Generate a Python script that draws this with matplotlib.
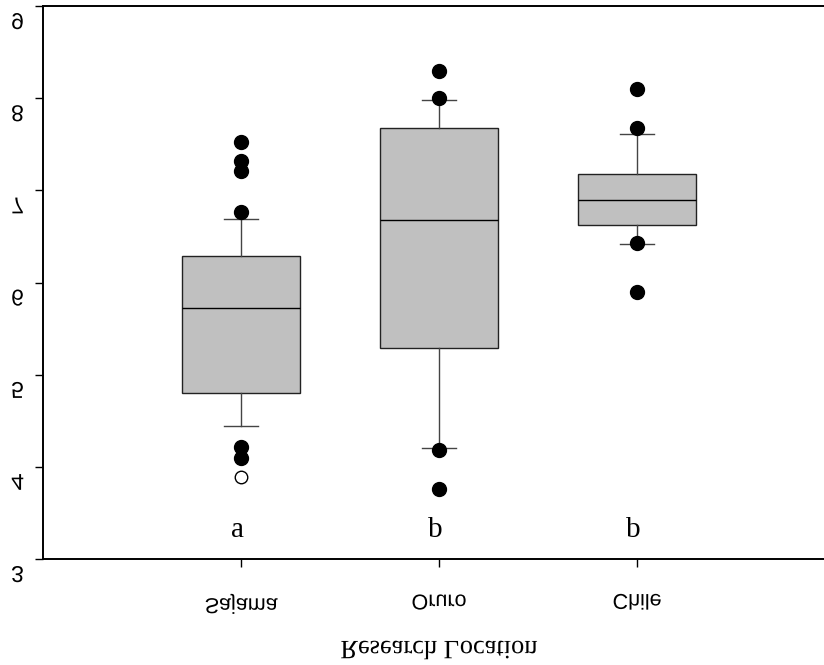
import matplotlib
matplotlib.use('Agg')
import matplotlib.pyplot as plt
from matplotlib import patheffects
from matplotlib.transforms import Affine2D, ScaledTranslation

# Box statistics per research site
sites = ['Sajama', 'Oruro', 'Chile']
groups = ['a', 'b', 'b']
q1 = [4.80, 5.29, 6.62]
med = [5.72, 6.68, 6.89]
q3 = [6.29, 7.68, 7.18]
whis_lo = [4.44, 4.20, 6.42]
whis_hi = [6.69, 7.98, 7.61]
outliers = [
    [7.52, 7.32, 7.21, 6.77, 4.22, 4.10],
    [8.30, 8.00, 4.18, 3.76],
    [8.10, 7.68, 6.43, 5.90],
]
extremes = [[3.89], [], []]
yticks = [3, 4, 5, 6, 7, 8, 9]


class Mirror(patheffects.AbstractPathEffect):
    """Draw text flipped top-to-bottom about its own centre."""

    def draw_path(self, renderer, gc, tpath, affine, rgbFace=None):
        ext = tpath.get_extents(affine)
        cy = 0.5 * (ext.y0 + ext.y1)
        flip = affine + Affine2D().translate(0, -cy).scale(1, -1).translate(0, cy)
        renderer.draw_path(gc, tpath, flip, rgbFace)


fig = plt.figure(figsize=(8.24, 6.65), dpi=100)
ax = fig.add_axes([43 / 824, 106 / 665, 792 / 824, 553 / 665])

stats = []
for i in range(len(sites)):
    stats.append(dict(med=med[i], q1=q1[i], q3=q3[i],
                      whislo=whis_lo[i], whishi=whis_hi[i],
                      fliers=outliers[i], label=sites[i]))

pos = list(range(1, len(sites) + 1))
ax.bxp(stats, positions=pos, widths=0.6, capwidths=0.17, patch_artist=True,
       boxprops=dict(facecolor='#c0c0c0', edgecolor='#222222', linewidth=1.0),
       medianprops=dict(color='black', linewidth=1.0),
       whiskerprops=dict(color='#444444', linewidth=1.0),
       capprops=dict(color='#444444', linewidth=1.0),
       flierprops=dict(marker='o', markerfacecolor='black', markeredgecolor='black',
                       markersize=10))

# far outliers as open circles
for p, vals in zip(pos, extremes):
    if vals:
        ax.plot([p] * len(vals), vals, 'o', mfc='white', mec='black', ms=9, mew=1.0)

# significance letters
for p, g in zip(pos, groups):
    ax.text(p - 0.02, 3.32, g, ha='center', va='center',
            fontsize=21, family='Liberation Serif')

ax.set_xlim(0, 4)
ax.set_ylim(3, 9)
ax.set_xticks(pos, sites)
ax.set_yticks(yticks)

ax.spines['right'].set_visible(False)
for s in ['left', 'bottom', 'top']:
    ax.spines[s].set_linewidth(1.4)

ax.tick_params(axis='both', direction='out', length=5.8, width=1.0, color='black')
ax.tick_params(axis='x', pad=19)
ax.tick_params(axis='y', pad=8)

for lbl in ax.get_xticklabels():
    lbl.set_fontsize(15.5)
    lbl.set_family('Liberation Sans')
    lbl.set_path_effects([Mirror()])

# y labels sit a little below their ticks
shift = ScaledTranslation(0, -0.14, fig.dpi_scale_trans)
for lbl in ax.get_yticklabels():
    lbl.set_fontsize(16.5)
    lbl.set_family('Liberation Sans')
    lbl.set_transform(lbl.get_transform() + shift)
    lbl.set_path_effects([Mirror()])

ax.set_xlabel('Research Location', fontsize=19, family='Liberation Serif', va='center')
ax.xaxis.set_label_coords(0.5, -0.170)
ax.xaxis.label.set_path_effects([Mirror()])

fig.savefig('out.png', dpi=100)
